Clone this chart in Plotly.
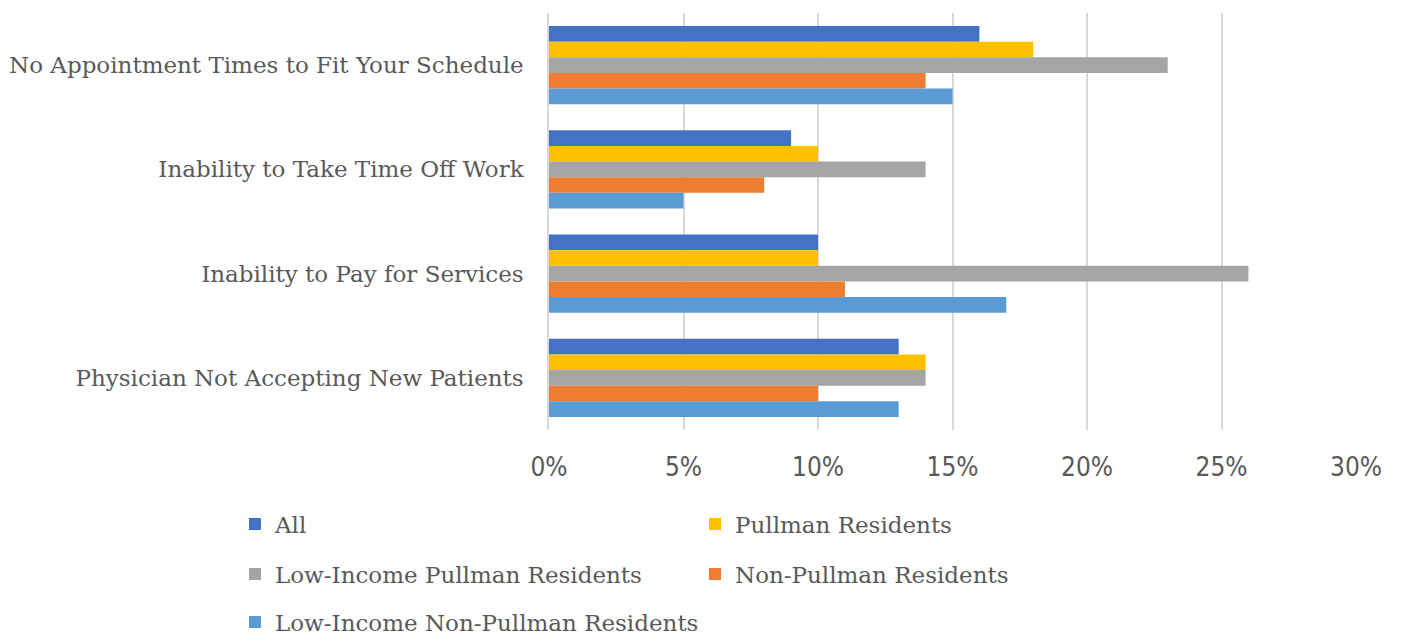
import plotly.graph_objects as go

categories = [
    "No Appointment Times to Fit Your Schedule",
    "Inability to Take Time Off Work",
    "Inability to Pay for Services",
    "Physician Not Accepting New Patients",
]
series_names = [
    "All",
    "Pullman Residents",
    "Low-Income Pullman Residents",
    "Non-Pullman Residents",
    "Low-Income Non-Pullman Residents",
]
all_vals = [0.16, 0.09, 0.10, 0.13]
pullman_vals = [0.18, 0.10, 0.10, 0.14]
low_income_pullman_vals = [0.23, 0.14, 0.26, 0.14]
non_pullman_vals = [0.14, 0.08, 0.11, 0.10]
low_income_non_pullman_vals = [0.15, 0.05, 0.17, 0.13]
tick_vals = [0, 0.05, 0.10, 0.15, 0.20, 0.25, 0.30]
tick_text = ["0%", "5%", "10%", "15%", "20%", "25%", "30%"]

colors = ["#4472C4", "#FFC000", "#A5A5A5", "#ED7D31", "#5B9BD5"]
values = [all_vals, pullman_vals, low_income_pullman_vals, non_pullman_vals, low_income_non_pullman_vals]
legend_ids = ["legend", "legend", "legend2", "legend2", "legend3"]

TEXT = "#595959"
GRID = "#D9D9D9"
fig = go.Figure()
for name, vals, col, lg in zip(series_names, values, colors, legend_ids):
    fig.add_trace(go.Bar(
        y=categories, x=vals, name=name, orientation="h",
        marker=dict(color=col, line=dict(width=0)), legend=lg,
    ))

legend_common = dict(
    orientation="h", xanchor="left", yanchor="middle",
    font=dict(family="DejaVu Serif", size=23, color=TEXT),
    entrywidthmode="pixels",
    bgcolor="rgba(0,0,0,0)", itemclick=False, itemdoubleclick=False,
)
lx = (235 - 549) / 807
fig.update_layout(
    width=1393, height=631,
    margin=dict(l=541, r=45, t=5, b=209, autoexpand=False),
    paper_bgcolor="white", plot_bgcolor="white",
    barmode="group", bargap=0.25, bargroupgap=0,
    xaxis=dict(
        range=[0, 0.30], tickvals=tick_vals, ticktext=tick_text,
        showgrid=True, gridcolor=GRID, gridwidth=1.5,
        zeroline=False, showline=False,
        tickfont=dict(family="Liberation Sans Narrow, DejaVu Sans Condensed, sans-serif", size=26, color=TEXT),
        ticks="outside", ticklen=14, tickcolor="rgba(0,0,0,0)",
    ),
    yaxis=dict(
        autorange="reversed", showgrid=False, zeroline=False,
        showline=True, linecolor=GRID, linewidth=1.5,
        tickfont=dict(family="DejaVu Serif", size=23, color=TEXT),
        ticks="outside", ticklen=19, tickcolor="rgba(0,0,0,0)",
    ),
    legend=dict(x=lx, y=(430 - 524) / 417, entrywidth=415, **legend_common),
    legend2=dict(x=lx, y=(430 - 574) / 417, entrywidth=415, **legend_common),
    legend3=dict(x=lx, y=(430 - 622) / 417, entrywidth=520, **legend_common),
)
fig.write_html("out.html")
